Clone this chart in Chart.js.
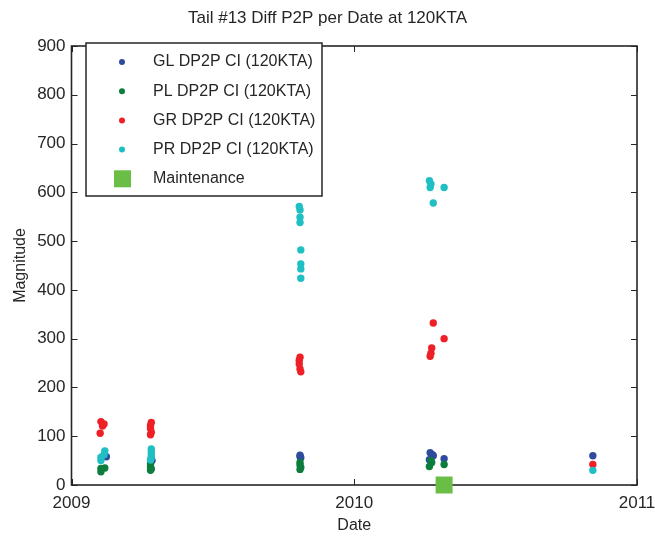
<!DOCTYPE html>
<html>
<head>
<meta charset="utf-8">
<script src="https://cdn.jsdelivr.net/npm/chart.js@4.4.1/dist/chart.umd.min.js"></script>
<style>
  html, body { margin: 0; padding: 0; background: #fff; }
</style>
</head>
<body>
<canvas id="myChart" width="655" height="538"></canvas>
<script>
// data
const glDates = ["2009-02-15", "2009-04-14", "2009-04-15", "2009-10-23", "2009-10-23", "2009-10-24",
  "2010-04-09", "2010-04-12", "2010-04-13", "2010-04-08", "2010-04-27", "2010-11-05"];
const glValues = [58, 55, 50, 61, 58, 56, 66, 62, 60, 52, 54, 60];

const plDates = ["2009-02-08", "2009-02-13", "2009-02-08", "2009-04-13", "2009-04-13", "2009-04-14", "2009-04-13",
  "2009-10-23", "2009-10-23", "2009-10-24", "2009-10-23", "2010-04-10", "2010-04-11", "2010-04-08", "2010-04-27"];
const plValues = [34, 35, 27, 43, 38, 33, 30, 46, 41, 36, 32, 50, 46, 38, 42];

const grDates = ["2009-02-08", "2009-02-12", "2009-02-10", "2009-02-07", "2009-04-14", "2009-04-13", "2009-04-13",
  "2009-04-14", "2009-04-13", "2009-10-23", "2009-10-22", "2009-10-22", "2009-10-23", "2009-10-24",
  "2010-04-13", "2010-04-27", "2010-04-11", "2010-04-10", "2010-04-09", "2010-11-05"];
const grValues = [130, 125, 121, 106, 128, 122, 116, 108, 103, 262, 256, 248, 238, 232, 332, 300, 281, 270, 264, 42];

const prDates = ["2009-02-13", "2009-02-12", "2009-02-08", "2009-02-08", "2009-04-14", "2009-04-14", "2009-04-14",
  "2009-04-14", "2009-04-13", "2009-10-22", "2009-10-23", "2009-10-23", "2009-10-23", "2009-10-24", "2009-10-24",
  "2009-10-24", "2009-10-24", "2010-04-08", "2010-04-10", "2010-04-09", "2010-04-27", "2010-04-13", "2010-11-05"];
const prValues = [70, 62, 57, 50, 74, 68, 62, 56, 51, 571, 564, 549, 538, 482, 453, 443, 424, 624, 617, 610, 610, 578, 30];

const maintDates = ["2010-04-27"];
const maintValues = [0];

const seriesLabels = ["GL DP2P CI (120KTA)", "PL DP2P CI (120KTA)", "GR DP2P CI (120KTA)", "PR DP2P CI (120KTA)", "Maintenance"];
const xTicks = [2009, 2010, 2011];
const yTicks = [0, 100, 200, 300, 400, 500, 600, 700, 800, 900];

const FONT = '"Liberation Sans", Arial, sans-serif';
const TEXT = "#262626";

function toYear(s) {
  const d = Date.parse(s + "T00:00:00Z");
  const y = new Date(d).getUTCFullYear();
  const start = Date.UTC(y, 0, 1);
  const end = Date.UTC(y + 1, 0, 1);
  return y + (d - start) / (end - start);
}

function points(dates, values) {
  return dates.map((d, i) => ({ x: toYear(d), y: values[i] }));
}

function dotSet(label, dates, values, color, order) {
  return {
    label: label,
    data: points(dates, values),
    backgroundColor: color,
    borderColor: color,
    borderWidth: 0,
    pointRadius: 3.7,
    pointStyle: "circle",
    order: order,
  };
}

// box and inward ticks, MATLAB style
const axesBox = {
  id: "axesBox",
  beforeDatasetsDraw(chart) {
    const { ctx, chartArea: a, scales } = chart;
    ctx.save();
    ctx.strokeStyle = TEXT;
    ctx.lineWidth = 1;
    ctx.beginPath();
    xTicks.forEach((v) => {
      const px = Math.round(scales.x.getPixelForValue(v)) + 0.5;
      ctx.moveTo(px, a.bottom); ctx.lineTo(px, a.bottom - 6);
      ctx.moveTo(px, a.top); ctx.lineTo(px, a.top + 6);
    });
    yTicks.forEach((v) => {
      const py = Math.round(scales.y.getPixelForValue(v)) + 0.5;
      ctx.moveTo(a.left, py); ctx.lineTo(a.left + 6, py);
      ctx.moveTo(a.right, py); ctx.lineTo(a.right - 6, py);
    });
    ctx.stroke();
    ctx.lineWidth = 1.6;
    ctx.strokeRect(a.left, a.top, a.right - a.left, a.bottom - a.top);
    ctx.restore();
  },
};

const legendBox = {
  id: "legendBox",
  afterDraw(chart) {
    const ctx = chart.ctx;
    ctx.save();
    ctx.fillStyle = "#fff";
    ctx.fillRect(86, 43, 236, 153);
    ctx.strokeStyle = TEXT;
    ctx.lineWidth = 1.5;
    ctx.strokeRect(86, 43, 236, 153);
    ctx.font = "16px " + FONT;
    ctx.textBaseline = "middle";
    chart.data.datasets.forEach((ds, i) => {
      const yy = 62 + i * 29.2;
      ctx.fillStyle = ds.backgroundColor;
      if (ds.pointStyle === "rect") {
        ctx.fillRect(114, yy - 8.5, 17, 17);
      } else {
        ctx.beginPath();
        ctx.arc(122, yy, 3, 0, Math.PI * 2);
        ctx.fill();
      }
      ctx.fillStyle = TEXT;
      ctx.fillText(ds.label, 153, yy);
    });
    ctx.restore();
  },
};

const ctx = document.getElementById("myChart").getContext("2d");

const config = {
  type: "scatter",
  data: {
    datasets: [
      dotSet(seriesLabels[0], glDates, glValues, "#2f4b9e", 5),
      dotSet(seriesLabels[1], plDates, plValues, "#0c7d3c", 4),
      dotSet(seriesLabels[2], grDates, grValues, "#ee2026", 3),
      dotSet(seriesLabels[3], prDates, prValues, "#1fbfc4", 2),
      {
        label: seriesLabels[4],
        data: points(maintDates, maintValues),
        backgroundColor: "#6abd45",
        borderColor: "#6abd45",
        borderWidth: 0,
        pointStyle: "rect",
        pointRadius: 12,
        clip: false,
        order: 1,
      },
    ],
  },
  options: {
    responsive: false,
    animation: false,
    layout: { padding: 0 },
    plugins: {
      legend: { display: false },
      tooltip: { enabled: false },
      title: {
        display: true,
        text: "Tail #13 Diff P2P per Date at 120KTA",
        color: TEXT,
        font: { family: FONT, size: 17, weight: "normal", lineHeight: "20px" },
        padding: { top: 8, bottom: 18 },
      },
    },
    scales: {
      x: {
        type: "linear",
        min: 2009,
        max: 2011,
        afterBuildTicks: (s) => { s.ticks = xTicks.map((v) => ({ value: v })); },
        ticks: {
          callback: (v) => String(v),
          color: TEXT,
          font: { family: FONT, size: 17 },
          padding: 8,
          maxRotation: 0,
        },
        grid: { display: false, drawTicks: false },
        border: { display: false },
        title: {
          display: true,
          text: "Date",
          color: TEXT,
          font: { family: FONT, size: 16 },
          padding: { top: 0, bottom: 3 },
        },
        afterFit: (s) => { s.height = 53; s.paddingLeft = 0; s.paddingRight = 0; },
      },
      y: {
        type: "linear",
        min: 0,
        max: 900,
        afterBuildTicks: (s) => { s.ticks = yTicks.map((v) => ({ value: v })); },
        ticks: {
          color: TEXT,
          font: { family: FONT, size: 17 },
          padding: 6,
        },
        grid: { display: false, drawTicks: false },
        border: { display: false },
        title: {
          display: true,
          text: "Magnitude",
          color: TEXT,
          font: { family: FONT, size: 16 },
          padding: { top: 11, bottom: 0 },
        },
        afterFit: (s) => { s.width = 71.5; s.paddingTop = 0; s.paddingBottom = 0; },
      },
      // empty right-hand margin so the title stays centred on the canvas
      yRight: {
        type: "linear",
        position: "right",
        display: true,
        min: 0,
        max: 900,
        ticks: { display: false },
        grid: { display: false, drawTicks: false },
        border: { display: false },
        afterFit: (s) => { s.width = 18; s.paddingTop = 0; s.paddingBottom = 0; },
      },
    },
  },
  plugins: [axesBox, legendBox],
};

const myChart = new Chart(ctx, config);
</script>
</body>
</html>
